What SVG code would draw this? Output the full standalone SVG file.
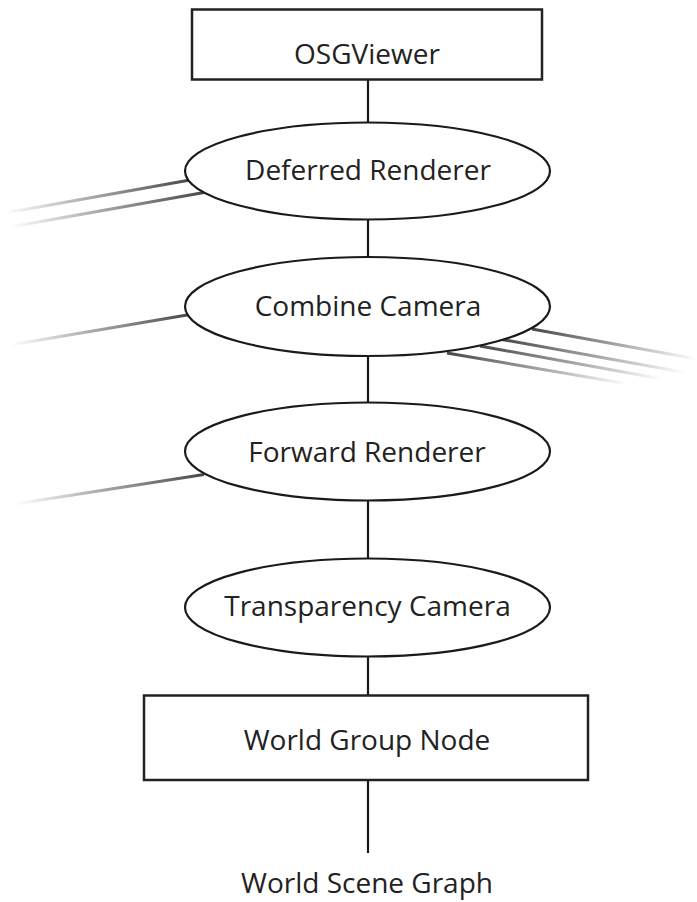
<svg xmlns="http://www.w3.org/2000/svg" width="697" height="902" viewBox="0 0 697 902">
<style>
.box{fill:#fff;stroke:#222;stroke-width:2.5}
.ell{fill:#fff;stroke:#1a1a1a;stroke-width:2.2}
.lbl{font-family:"Open Sans","Liberation Sans",sans-serif;font-size:28px;fill:#222;text-anchor:middle}
.v{stroke:#1a1a1a;stroke-width:2.2}
.fl{stroke:url(#fadeL);stroke-width:3;fill:none}
.fr{stroke:url(#fadeR);stroke-width:3;fill:none}
</style>
<defs>
<linearGradient id="fadeL" x1="0" y1="0" x2="1" y2="0">
<stop offset="0" stop-color="#444" stop-opacity="0"/>
<stop offset="0.55" stop-color="#444" stop-opacity="0.55"/>
<stop offset="1" stop-color="#333" stop-opacity="0.9"/>
</linearGradient>
<linearGradient id="fadeR" x1="0" y1="0" x2="1" y2="0">
<stop offset="0" stop-color="#333" stop-opacity="0.9"/>
<stop offset="0.45" stop-color="#444" stop-opacity="0.55"/>
<stop offset="1" stop-color="#444" stop-opacity="0"/>
</linearGradient>
</defs>
<g id="connectors">
<line class="v" x1="368" y1="79" x2="368" y2="123"/>
<line class="v" x1="368" y1="219" x2="368" y2="258"/>
<line class="v" x1="368" y1="356" x2="368" y2="403"/>
<line class="v" x1="368" y1="500" x2="368" y2="559"/>
<line class="v" x1="368" y1="656" x2="368" y2="696"/>
<line class="v" x1="368" y1="780" x2="368" y2="853"/>
<line class="fl" x1="5" y1="213" x2="190" y2="180"/>
<line class="fl" x1="10" y1="227" x2="204" y2="192.5"/>
<line class="fl" x1="10" y1="345" x2="190" y2="314.5"/>
<line class="fl" x1="15" y1="504" x2="204" y2="474.5"/>
<line class="fr" x1="532" y1="329" x2="697" y2="359"/>
<line class="fr" x1="502" y1="339.5" x2="685" y2="372.5"/>
<line class="fr" x1="480" y1="346" x2="662" y2="379"/>
<line class="fr" x1="447" y1="353" x2="628" y2="384"/>
</g>
<g id="osgviewer">
<rect class="box" x="192" y="9.5" width="350" height="70"/>
<text class="lbl" x="367" y="64">OSGViewer</text>
</g>
<g id="deferred-renderer">
<ellipse class="ell" cx="367.5" cy="171" rx="182.5" ry="48.5"/>
<text class="lbl" x="368" y="180">Deferred Renderer</text>
</g>
<g id="combine-camera">
<ellipse class="ell" cx="367.5" cy="306.5" rx="182.5" ry="49.5"/>
<text class="lbl" x="368" y="316">Combine Camera</text>
</g>
<g id="forward-renderer">
<ellipse class="ell" cx="367.5" cy="451.5" rx="182.5" ry="49"/>
<text class="lbl" x="367" y="461.5">Forward Renderer</text>
</g>
<g id="transparency-camera">
<ellipse class="ell" cx="367.5" cy="607.5" rx="182.5" ry="49"/>
<text class="lbl" x="367.5" y="616">Transparency Camera</text>
</g>
<g id="world-group-node">
<rect class="box" x="144" y="695.5" width="444" height="84.5"/>
<text class="lbl" x="367" y="749.5">World Group Node</text>
</g>
<g id="world-scene-graph">
<text class="lbl" x="367" y="893">World Scene Graph</text>
</g>
</svg>
